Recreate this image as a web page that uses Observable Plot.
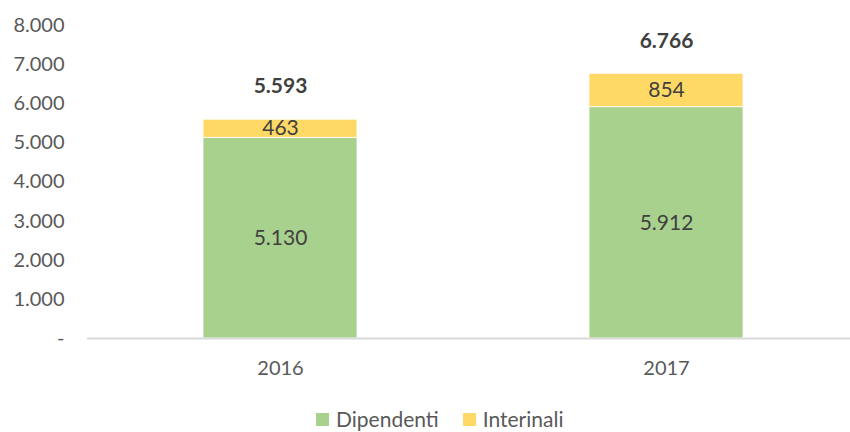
<!DOCTYPE html>
<html>
<head>
<meta charset="utf-8">
<script src="https://cdn.jsdelivr.net/npm/d3@7"></script>
<script src="https://cdn.jsdelivr.net/npm/@observablehq/plot@0.6"></script>
<style>
  body { margin: 0; background: #fff; font-family: Lato, "Open Sans", sans-serif; }
  #wrap { position: relative; width: 850px; height: 432px; overflow: hidden; }
  #legend { position: absolute; left: 316px; top: 407px; display: flex; align-items: center; font-size: 21px; line-height: 24px; color: #595959; }
  .sw { width: 13px; height: 13px; display: inline-block; margin-right: 7px; }
  .item { display: flex; align-items: center; margin-right: 24px; }
</style>
</head>
<body>
<div id="wrap">
  <div id="chart"></div>
  <div id="legend"></div>
</div>
<script>
const years = ["2016", "2017"];
const seriesNames = ["Dipendenti", "Interinali"];
const dipendenti = [5130, 5912];
const interinali = [463, 854];
const totals = [5593, 6766];
const yTicks = [0, 1000, 2000, 3000, 4000, 5000, 6000, 7000, 8000];
const colors = ["#A9D18E", "#FFD966"];

const fmt = v => v === 0 ? "-" : d3.format(",")(v).replace(/,/g, ".");

const rows = [];
years.forEach((y, i) => {
  rows.push({year: y, series: seriesNames[0], value: dipendenti[i]});
  rows.push({year: y, series: seriesNames[1], value: interinali[i]});
});
const totalRows = years.map((y, i) => ({year: y, total: totals[i]}));

const chart = Plot.plot({
  width: 850,
  height: 400,
  marginLeft: 87,
  marginRight: 0,
  marginTop: 25,
  marginBottom: 62,
  style: {fontFamily: "Lato, 'Open Sans', sans-serif", fontSize: "20px", color: "#595959", background: "#fff"},
  x: {domain: years, range: [87, 859], paddingInner: 0.6, paddingOuter: 0.3, label: null},
  y: {domain: [0, 8000], label: null},
  color: {domain: seriesNames, range: colors},
  marks: [
    Plot.barY(rows, Plot.stackY({x: "year", y: "value", fill: "series", z: "series", order: seriesNames, stroke: "#fff", strokeWidth: 0.8})),
    Plot.text(rows, Plot.stackY({x: "year", y: "value", z: "series", order: seriesNames, text: d => fmt(d.value), fill: "#404040", fontSize: 21})),
    Plot.text(totalRows, {x: "year", y: "total", text: d => fmt(d.total), dy: -33, fill: "#404040", fontWeight: "bold", fontSize: 21}),
    Plot.ruleY([0], {stroke: "#D9D9D9", strokeWidth: 2}),
    Plot.axisY({ticks: yTicks, tickFormat: fmt, tickSize: 0, tickPadding: 23, fontSize: 20}),
    Plot.axisX({tickSize: 0, tickPadding: 22, fontSize: 20})
  ]
});
document.getElementById("chart").appendChild(chart);

const legend = document.getElementById("legend");
seriesNames.forEach((s, i) => {
  const it = document.createElement("div");
  it.className = "item";
  const sw = document.createElement("span");
  sw.className = "sw";
  sw.style.background = colors[i];
  it.appendChild(sw);
  it.appendChild(document.createTextNode(s));
  legend.appendChild(it);
});
</script>
</body>
</html>
